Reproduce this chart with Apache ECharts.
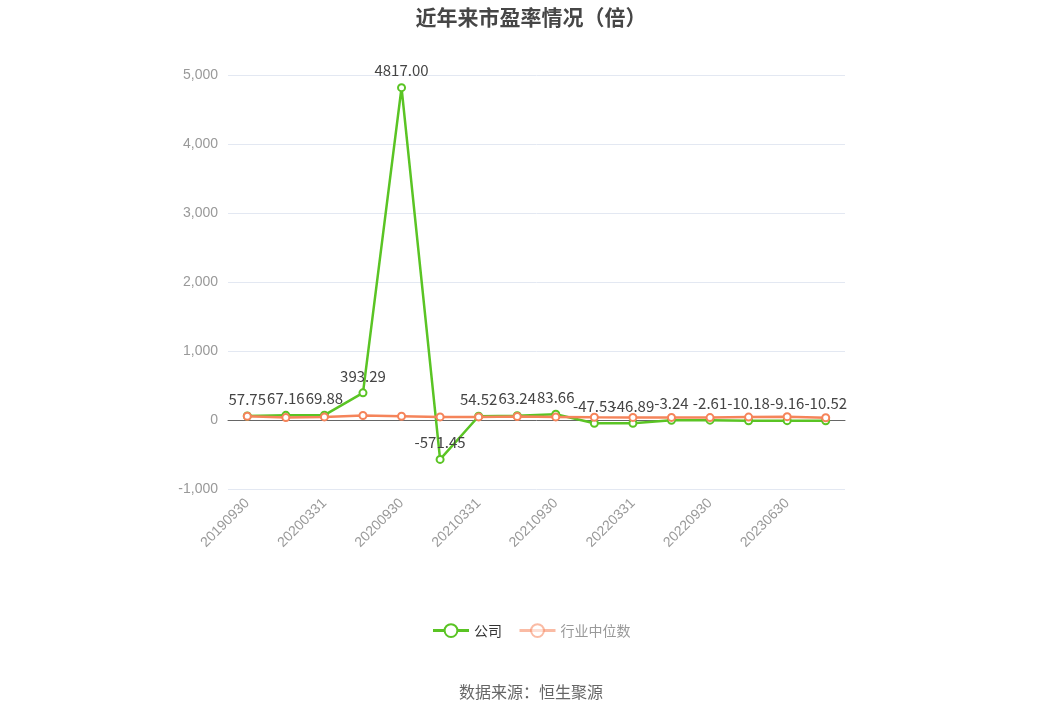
<!DOCTYPE html>
<html>
<head>
<meta charset="utf-8">
<script src="https://cdn.jsdelivr.net/npm/echarts@6/dist/echarts.min.js"></script>
<style>
  html, body { margin: 0; padding: 0; background: #fff; }
  #main { width: 1062px; height: 718px; }
</style>
</head>
<body>
<div id="main"></div>
<script>
var categories = ['20190930', '20191231', '20200331', '20200630', '20200930', '20201231',
  '20210331', '20210630', '20210930', '20211231', '20220331', '20220630',
  '20220930', '20221231', '20230630', '20230930'];
var companyPE = [57.75, 67.16, 69.88, 393.29, 4817.00, -571.45, 54.52, 63.24,
  83.66, -47.53, -46.89, -3.24, -2.61, -10.18, -9.16, -10.52];
var industryPE = [55, 35, 45, 65, 55, 45, 45, 50, 45, 40, 38, 38, 35, 42, 48, 32];
var yTicks = { min: -1000, max: 5000, interval: 1000 };

var chart = echarts.init(document.getElementById('main'));

var option = {
  title: {
    text: '近年来市盈率情况（倍）',
    left: 'center',
    top: 2,
    textStyle: { fontSize: 21, fontWeight: 'bold', color: '#464646', fontFamily: 'Noto Sans CJK SC' }
  },
  legend: {
    bottom: 75,
    left: 'center',
    itemWidth: 36,
    itemHeight: 16,
    itemGap: 16,
    textStyle: { fontSize: 14, color: '#333', fontFamily: 'Noto Sans CJK SC' },
    data: [
      { name: '公司', lineStyle: { width: 3 }, itemStyle: { borderWidth: 3 } },
      { name: '行业中位数',
        itemStyle: { opacity: 0.55, borderWidth: 3 },
        lineStyle: { opacity: 0.55, width: 3 },
        textStyle: { color: '#999' } }
    ]
  },
  graphic: [{
    type: 'text',
    left: 'center',
    top: 684,
    style: { text: '数据来源：恒生聚源', fontSize: 16, fill: '#666', fontFamily: 'Noto Sans CJK SC' }
  }],
  grid: { left: 228, right: 217, top: 75, bottom: 229 },
  xAxis: {
    type: 'category',
    data: categories,
    boundaryGap: true,
    axisLine: { onZero: true, lineStyle: { color: '#666' } },
    axisTick: { alignWithLabel: true, interval: 1, lineStyle: { color: '#999' }, length: 6 },
    axisLabel: { interval: 1, rotate: 45, color: '#999', fontSize: 14, margin: 12 }
  },
  yAxis: {
    type: 'value',
    min: yTicks.min,
    max: yTicks.max,
    interval: yTicks.interval,
    axisLine: { show: false },
    axisTick: { show: false },
    axisLabel: { color: '#999', fontSize: 14, margin: 10 },
    splitLine: { lineStyle: { color: '#e3e8f2' } }
  },
  series: [
    {
      name: '公司',
      type: 'line',
      data: companyPE,
      symbol: 'emptyCircle',
      symbolSize: 7,
      z: 3,
      lineStyle: { width: 2.5, color: '#5ac424' },
      itemStyle: { color: '#5ac424', borderWidth: 2 },
      label: {
        show: true,
        position: 'top',
        color: '#444',
        fontSize: 15,
        fontFamily: 'Noto Sans CJK SC',
        formatter: function (p) { return p.value.toFixed(2); }
      }
    },
    {
      name: '行业中位数',
      type: 'line',
      data: industryPE,
      symbol: 'emptyCircle',
      symbolSize: 7,
      z: 4,
      lineStyle: { width: 2.5, color: '#f5845a' },
      itemStyle: { color: '#f5845a', borderWidth: 2 }
    }
  ]
};

chart.setOption(option);
</script>
</body>
</html>
